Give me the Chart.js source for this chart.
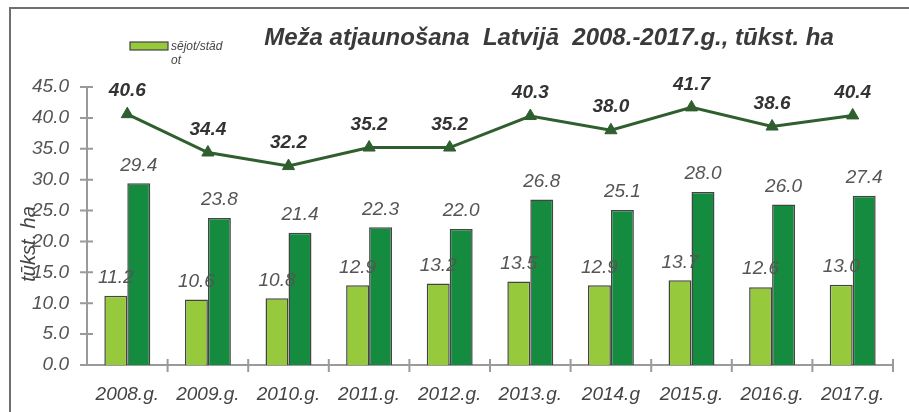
<!DOCTYPE html>
<html><head><meta charset="utf-8">
<script src="https://cdn.jsdelivr.net/npm/chart.js@4.4.1/dist/chart.umd.min.js"></script>
<style>html,body{margin:0;padding:0;background:#fff}#w{width:909px;height:412px}</style>
</head><body><div id="w"><canvas id="c" width="909" height="412"></canvas></div>
<script>
const categories = ['2008.g.','2009.g.','2010.g.','2011.g.','2012.g.','2013.g.','2014.g','2015.g.','2016.g.','2017.g.'];
const sejotStadot = [11.2,10.6,10.8,12.9,13.2,13.5,12.9,13.7,12.6,13.0];
const dabiska = [29.4,23.8,21.4,22.3,22.0,26.8,25.1,28.0,26.0,27.4];
const kopa = [40.6,34.4,32.2,35.2,35.2,40.3,38.0,41.7,38.6,40.4];
const yTicks = [0,5,10,15,20,25,30,35,40,45];
const titleText = 'Meža atjaunošana  Latvijā  2008.-2017.g., tūkst. ha';
const legendLines = ['sējot/stād','ot'];
const yTitle = 'tūkst. ha';

const FF = '"Liberation Sans", Arial, sans-serif';
const LIGHT = '#97c93d', DARK = '#158b3f', LINE = '#2f5e2f', AXIS = '#9a9a9a';

const decor = {
  id: 'decor',
  beforeDraw(chart) {
    const ctx = chart.ctx;
    ctx.save();
    ctx.fillStyle = '#fff';
    ctx.fillRect(0, 0, chart.width, chart.height);
    ctx.strokeStyle = '#6f6f6f';
    ctx.lineWidth = 2;
    ctx.beginPath();
    ctx.moveTo(10, 412); ctx.lineTo(10, 8); ctx.lineTo(909, 8);
    ctx.stroke();
    // title
    ctx.fillStyle = '#3a3a3a';
    ctx.font = 'italic bold 24px ' + FF;
    ctx.textAlign = 'center'; ctx.textBaseline = 'middle';
    ctx.fillText(titleText, 549, 38);
    // legend
    ctx.fillStyle = LIGHT; ctx.strokeStyle = '#444'; ctx.lineWidth = 1.2;
    ctx.fillRect(130, 42, 38, 8); ctx.strokeRect(130, 42, 38, 8);
    ctx.fillStyle = '#444';
    ctx.font = 'italic 12px ' + FF;
    ctx.textAlign = 'left';
    ctx.fillText(legendLines[0], 171, 47);
    ctx.fillText(legendLines[1], 171, 61);
    // y title
    ctx.save();
    ctx.translate(29, 244);
    ctx.rotate(-Math.PI/2);
    ctx.textAlign = 'center';
    ctx.font = 'italic 20px ' + FF;
    ctx.fillStyle = '#444';
    ctx.fillText(yTitle, 0, 0);
    ctx.restore();
    ctx.restore();
  },
  beforeDatasetsDraw(chart) {
    const ctx = chart.ctx, a = chart.chartArea;
    const ys = chart.scales.y;
    ctx.save();
    ctx.strokeStyle = AXIS; ctx.lineWidth = 2;
    ctx.beginPath();
    ctx.moveTo(a.left, ys.getPixelForValue(45)); ctx.lineTo(a.left, a.bottom);
    ctx.lineTo(a.right, a.bottom);
    yTicks.forEach(v => { const y = ys.getPixelForValue(v); ctx.moveTo(a.left - 7, y); ctx.lineTo(a.left + 6, y); });
    const w = (a.right - a.left) / categories.length;
    for (let i = 1; i <= categories.length; i++) {
      const x = a.left + w * i;
      ctx.moveTo(x, a.bottom - 6); ctx.lineTo(x, a.bottom + 7);
    }
    ctx.stroke();
    ctx.restore();
  },
  afterDatasetsDraw(chart) {
    const ctx = chart.ctx;
    ctx.save();
    ctx.textAlign = 'center'; ctx.textBaseline = 'middle';
    [[0, sejotStadot], [1, dabiska]].forEach(([di, arr]) => {
      const meta = chart.getDatasetMeta(di);
      ctx.font = 'italic 19px ' + FF;
      ctx.fillStyle = '#555';
      meta.data.forEach((el, i) => {
        ctx.fillText(arr[i].toFixed(1), el.x, el.y - 18);
      });
    });
    const lm = chart.getDatasetMeta(2);
    ctx.font = 'italic bold 19px ' + FF;
    ctx.fillStyle = '#333';
    lm.data.forEach((el, i) => {
      ctx.fillText(kopa[i].toFixed(1), el.x, el.y - 23);
    });
    ctx.restore();
  }
};

new Chart(document.getElementById('c'), {
  type: 'bar',
  data: {
    labels: categories,
    datasets: [
      { label: 'sējot/stādot', data: sejotStadot, backgroundColor: LIGHT, borderColor: '#444', borderWidth: 1.5, order: 1, categoryPercentage: 0.57, barPercentage: 1.0 },
      { label: 'dabiskā', data: dabiska, backgroundColor: DARK, borderColor: '#444', borderWidth: 1.5, order: 2, categoryPercentage: 0.57, barPercentage: 1.0 },
      { type: 'line', label: 'kopā', data: kopa, borderColor: LINE, backgroundColor: LINE, borderWidth: 3, pointStyle: 'triangle', pointRadius: 7, pointBorderWidth: 1, order: 0, tension: 0 }
    ]
  },
  options: {
    responsive: false, animation: false, devicePixelRatio: 1,
    layout: { padding: { top: 87, right: 16, left: 0, bottom: 0 } },
    plugins: { legend: { display: false }, tooltip: { enabled: false } },
    scales: {
      x: {
        grid: { display: false }, border: { display: false },
        ticks: { color: '#444', font: { family: FF, size: 19, style: 'italic' }, padding: 10, maxRotation: 0, autoSkip: false },
        afterFit(s) { s.height = 47; }
      },
      y: {
        min: 0, max: 45,
        grid: { display: false, drawTicks: false }, border: { display: false },
        afterBuildTicks(s) { s.ticks = yTicks.map(v => ({ value: v })); },
        ticks: { color: '#555', font: { family: FF, size: 19, style: 'italic' }, padding: 18, callback: v => Number(v).toFixed(1) },
        afterFit(s) { s.width = 87; }
      }
    }
  },
  plugins: [decor]
});
</script></body></html>
